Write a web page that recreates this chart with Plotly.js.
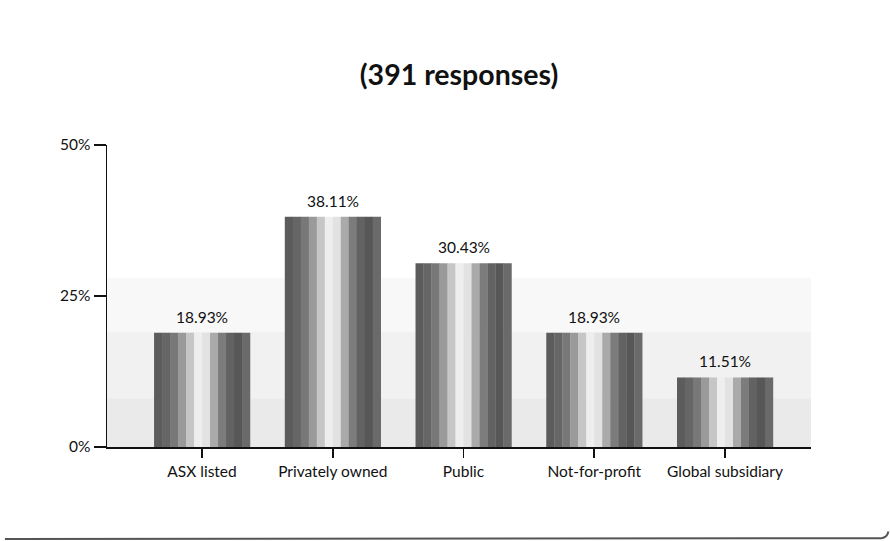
<!DOCTYPE html>
<html>
<head>
<meta charset="utf-8">
<script src="https://cdn.plot.ly/plotly-3.0.1.min.js"></script>
<style>html,body{margin:0;padding:0;background:#fff;}#chart{width:890px;height:541px;}</style>
</head>
<body>
<div id="chart"></div>
<script>
const categories = ["ASX listed", "Privately owned", "Public", "Not-for-profit", "Global subsidiary"];
const values = [18.93, 38.11, 30.43, 18.93, 11.51];
const valueLabels = ["18.93%", "38.11%", "30.43%", "18.93%", "11.51%"];
const yTickVals = [0, 25, 50];
const yTickText = ["0%", "25%", "50%"];

// cylinder-like shading strips (style only)
const stripColors = ["#5c5c5c","#666666","#787878","#9a9a9a","#c6c6c6","#eeeeee","#e2e2e2","#aaaaaa","#7c7c7c","#626262","#575757","#6a6a6a"];
const barWidth = 0.734;
const sw = barWidth / stripColors.length;
const FONT = "Lato, 'Open Sans', sans-serif";

const traces = stripColors.map((c, i) => ({
  type: "bar",
  x: categories,
  y: values,
  width: sw * 1.03,
  offset: -barWidth / 2 + i * sw,
  marker: { color: c, line: { width: 0 } },
  hoverinfo: "skip",
  showlegend: false
}));

const annotations = categories.map((c, i) => ({
  x: c, y: values[i], xref: "x", yref: "y",
  text: valueLabels[i],
  showarrow: false,
  yanchor: "bottom",
  yshift: 5,
  font: { family: FONT, size: 15.5, color: "#111" }
}));

const layout = {
  width: 890,
  height: 541,
  margin: { l: 107, r: 79, t: 145, b: 94 },
  paper_bgcolor: "#ffffff",
  plot_bgcolor: "rgba(0,0,0,0)",
  barmode: "overlay",
  font: { family: FONT, size: 15.5, color: "#111" },
  title: {
    text: "<b>(391 responses)</b>",
    xref: "paper",
    x: 0.5, xanchor: "center",
    y: 0.862, yanchor: "middle",
    font: { family: FONT, size: 28.5, color: "#111" }
  },
  xaxis: {
    type: "category",
    range: [-0.727, 4.658],
    showgrid: false,
    zeroline: false,
    showline: true,
    linecolor: "#111",
    linewidth: 2,
    ticks: "outside",
    ticklen: 9,
    tickwidth: 1.5,
    tickcolor: "#111",
    tickfont: { family: FONT, size: 15.5, color: "#111" },
    fixedrange: true
  },
  yaxis: {
    range: [0, 50],
    tickvals: yTickVals,
    ticktext: yTickText,
    showgrid: false,
    zeroline: false,
    showline: true,
    linecolor: "#111",
    linewidth: 1.5,
    ticks: "outside",
    ticklen: 12,
    tickwidth: 1.2,
    tickcolor: "#111",
    tickfont: { family: FONT, size: 15.5, color: "#111" },
    fixedrange: true
  },
  annotations: annotations,
  shapes: [
    { type: "rect", xref: "paper", yref: "y", x0: 0, x1: 1, y0: 0, y1: 28, fillcolor: "#f8f8f8", line: { width: 0 }, layer: "below" },
    { type: "rect", xref: "paper", yref: "y", x0: 0, x1: 1, y0: 0, y1: 19, fillcolor: "#f1f1f1", line: { width: 0 }, layer: "below" },
    { type: "rect", xref: "paper", yref: "y", x0: 0, x1: 1, y0: 0, y1: 8, fillcolor: "#eaeaea", line: { width: 0 }, layer: "below" },
    { type: "path", xref: "paper", yref: "paper",
      path: "M -0.145 -0.305 L 1.100 -0.302 Q 1.108 -0.300 1.110 -0.28",
      line: { color: "#555", width: 2 } }
  ]
};

Plotly.newPlot("chart", traces, layout, { displayModeBar: false, staticPlot: true });
</script>
</body>
</html>
